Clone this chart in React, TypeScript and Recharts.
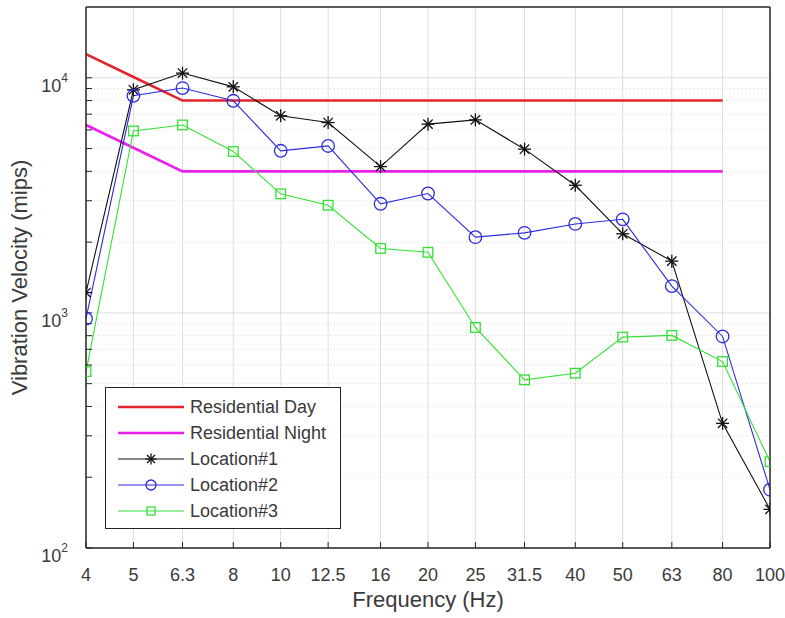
import React from 'react';
import { LineChart, Line, XAxis, YAxis, CartesianGrid, Legend } from 'recharts';

// 1/3-octave band centre frequencies (Hz)
const frequencies = [4, 5, 6.3, 8, 10, 12.5, 16, 20, 25, 31.5, 40, 50, 63, 80, 100];

// criteria curves (end at 80 Hz)
const residentialDay = [12600, 10080, 8000, 8000, 8000, 8000, 8000, 8000, 8000, 8000, 8000, 8000, 8000, 8000, null];
const residentialNight = [6300, 5040, 4000, 4000, 4000, 4000, 4000, 4000, 4000, 4000, 4000, 4000, 4000, 4000, null];

// measured vibration velocity (mips)
const location1 = [1220, 8890, 10470, 9150, 6890, 6450, 4190, 6350, 6620, 4970, 3490, 2170, 1660, 339, 146];
const location2 = [945, 8380, 9040, 7980, 4890, 5130, 2910, 3220, 2100, 2190, 2390, 2500, 1300, 794, 177];
const location3 = [563, 5940, 6300, 4860, 3210, 2870, 1880, 1810, 867, 519, 554, 789, 802, 621, 233];

const majorTicks = [100, 1000, 10000];
const minorTicks = [200, 300, 400, 500, 600, 700, 800, 900, 2000, 3000, 4000, 5000, 6000, 7000, 8000, 9000];
const exponents: Record<number, string> = { 100: '2', 1000: '3', 10000: '4' };

const data = frequencies.map((f, i) => ({
  f,
  day: residentialDay[i],
  night: residentialNight[i],
  loc1: location1[i],
  loc2: location2[i],
  loc3: location3[i],
}));

const W = 785;
const H = 618;
const PLOT_LEFT = 86;
const PLOT_BOTTOM = 548;
const FONT = '"Liberation Sans", Arial, Helvetica, sans-serif';
const AXIS = '#262626';
const TEXT = '#3a3a3a';

const C_DAY = '#e4232a';
const C_NIGHT = '#ec1fec';
const C_L1 = '#111111';
const C_L2 = '#2b2be0';
const C_L3 = '#33e233';

// recharts passes its own r to dots, so marker size goes in `size`
const Star = ({ cx, cy, size = 6.5 }: any) => {
  if (cx == null || cy == null) return null;
  const d = size * 0.72;
  return (
    <g stroke={C_L1} strokeWidth={1.3}>
      <line x1={cx - size} y1={cy} x2={cx + size} y2={cy} />
      <line x1={cx} y1={cy - size} x2={cx} y2={cy + size} />
      <line x1={cx - d} y1={cy - d} x2={cx + d} y2={cy + d} />
      <line x1={cx - d} y1={cy + d} x2={cx + d} y2={cy - d} />
    </g>
  );
};

const Circle = ({ cx, cy, size = 6.3 }: any) => {
  if (cx == null || cy == null) return null;
  return <circle cx={cx} cy={cy} r={size} fill="none" stroke={C_L2} strokeWidth={1.3} />;
};

const Square = ({ cx, cy, size = 4.8 }: any) => {
  if (cx == null || cy == null) return null;
  return <rect x={cx - size} y={cy - size} width={2 * size} height={2 * size} fill="none" stroke={C_L3} strokeWidth={1.3} />;
};

const XTick = ({ x, payload }: any) => (
  <text x={x} y={PLOT_BOTTOM + 33} textAnchor="middle" fontSize={18} fontFamily={FONT} fill={TEXT}>
    {payload.value}
  </text>
);

const YTick = ({ y, payload }: any) => {
  const exp = exponents[payload.value];
  if (!exp) return <g />;
  return (
    <text x={PLOT_LEFT - 18} y={y + 14} textAnchor="end" fontSize={18} fontFamily={FONT} fill={TEXT}>
      10
      <tspan fontSize={12} dy={-10}>{exp}</tspan>
    </text>
  );
};

const legendItems = [
  { label: 'Residential Day', color: C_DAY, width: 2.6, marker: null },
  { label: 'Residential Night', color: C_NIGHT, width: 2.6, marker: null },
  { label: 'Location#1', color: C_L1, width: 1, marker: 'star' },
  { label: 'Location#2', color: C_L2, width: 1, marker: 'circle' },
  { label: 'Location#3', color: C_L3, width: 1, marker: 'square' },
];

const LegendBox = () => (
  <div
    style={{
      width: 236,
      height: 142,
      boxSizing: 'border-box',
      border: `1.5px solid ${AXIS}`,
      background: '#fff',
      paddingTop: 6,
      fontFamily: FONT,
      fontSize: 18,
      color: TEXT,
    }}
  >
    {legendItems.map((it) => (
      <div key={it.label} style={{ display: 'flex', alignItems: 'center', height: 26 }}>
        <svg width={84} height={26} style={{ flex: 'none' }}>
          <line x1={12} y1={13} x2={78} y2={13} stroke={it.color} strokeWidth={it.width} />
          {it.marker === 'star' && <Star cx={45} cy={13} size={5.5} />}
          {it.marker === 'circle' && <Circle cx={45} cy={13} size={5} />}
          {it.marker === 'square' && <Square cx={45} cy={13} size={4} />}
        </svg>
        <span style={{ whiteSpace: 'nowrap' }}>{it.label}</span>
      </div>
    ))}
  </div>
);

export default function App() {
  return (
    <div style={{ position: 'absolute', left: 0, top: 0, width: W, height: H, background: '#fff' }}>
      <LineChart width={W} height={H} data={data} margin={{ top: 0, right: 0, bottom: 0, left: 0 }}>
        <CartesianGrid
          xAxisId="bottom"
          yAxisId="left"
          verticalValues={frequencies}
          horizontalValues={majorTicks}
          stroke="#dedede"
          strokeWidth={1}
        />
        <CartesianGrid
          xAxisId="bottom"
          yAxisId="left"
          vertical={false}
          horizontalValues={minorTicks}
          stroke="#d2d2d2"
          strokeDasharray="1 3"
        />
        <XAxis
          xAxisId="bottom"
          dataKey="f"
          type="number"
          scale="log"
          domain={[4, 100]}
          ticks={frequencies}
          interval={0}
          allowDataOverflow
          height={70}
          tickSize={-6}
          axisLine={{ stroke: AXIS, strokeWidth: 1.5 }}
          tickLine={{ stroke: AXIS }}
          tick={<XTick />}
        />
        <XAxis
          xAxisId="top"
          orientation="top"
          dataKey="f"
          type="number"
          scale="log"
          domain={[4, 100]}
          ticks={frequencies}
          interval={0}
          allowDataOverflow
          height={7}
          tickSize={-6}
          axisLine={{ stroke: AXIS, strokeWidth: 1.5 }}
          tickLine={{ stroke: AXIS }}
          tick={false}
        />
        <YAxis
          yAxisId="left"
          type="number"
          scale="log"
          domain={[100, 20000]}
          ticks={[...majorTicks, ...minorTicks]}
          interval={0}
          allowDataOverflow
          width={PLOT_LEFT}
          tickSize={-6}
          axisLine={{ stroke: AXIS, strokeWidth: 1.5 }}
          tickLine={{ stroke: AXIS }}
          tick={<YTick />}
          label={{
            value: 'Vibration Velocity (mips)',
            angle: -90,
            position: 'insideLeft',
            dx: 14,
            style: { fontSize: 22, fontFamily: FONT, fill: TEXT, textAnchor: 'middle' },
          }}
        />
        <YAxis
          yAxisId="right"
          orientation="right"
          type="number"
          scale="log"
          domain={[100, 20000]}
          ticks={[...majorTicks, ...minorTicks]}
          interval={0}
          allowDataOverflow
          width={15}
          tickSize={-6}
          axisLine={{ stroke: AXIS, strokeWidth: 1.5 }}
          tickLine={{ stroke: AXIS }}
          tick={false}
        />
        <Legend
          layout="vertical"
          align="center"
          verticalAlign="middle"
          content={<LegendBox />}
          wrapperStyle={{ left: 105, top: 387, width: 236, height: 142 }}
        />
        <Line xAxisId="bottom" yAxisId="left" dataKey="day" stroke={C_DAY} strokeWidth={2.6} dot={false} isAnimationActive={false} />
        <Line xAxisId="bottom" yAxisId="left" dataKey="night" stroke={C_NIGHT} strokeWidth={2.6} dot={false} isAnimationActive={false} />
        <Line xAxisId="bottom" yAxisId="left" dataKey="loc1" stroke={C_L1} strokeWidth={1.1} dot={<Star />} isAnimationActive={false} />
        <Line xAxisId="bottom" yAxisId="left" dataKey="loc2" stroke={C_L2} strokeWidth={1.1} dot={<Circle />} isAnimationActive={false} />
        <Line xAxisId="bottom" yAxisId="left" dataKey="loc3" stroke={C_L3} strokeWidth={1.1} dot={<Square />} isAnimationActive={false} />
      </LineChart>
      <div
        style={{
          position: 'absolute',
          left: PLOT_LEFT,
          width: 684,
          top: 587,
          textAlign: 'center',
          fontFamily: FONT,
          fontSize: 22,
          color: TEXT,
        }}
      >
        Frequency (Hz)
      </div>
    </div>
  );
}
